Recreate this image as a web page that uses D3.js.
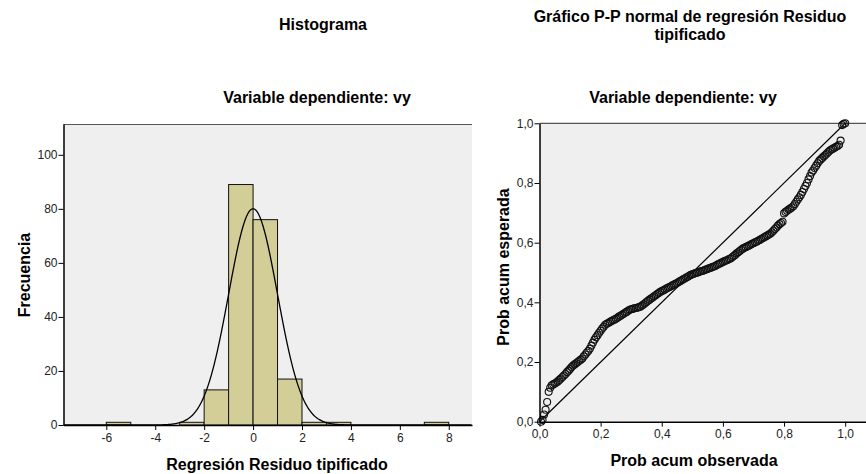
<!DOCTYPE html>
<meta charset="utf-8">
<html>
<head>
<title>Histograma y P-P</title>
<script src="https://d3js.org/d3.v7.min.js"></script>
<style>
  body { margin: 0; background: #fff; }
  text { font-family: "Liberation Sans", Arial, sans-serif; }
  .ttl { font-size: 16px; font-weight: bold; fill: #000; }
  .tick text { font-size: 12px; fill: #222; }
</style>
</head>
<body>
<script>
// histogram bins (start of bin, width 1) and frequencies
var binStart = [-6, -3, -2, -1, 0, 1, 2, 3, 7];
var binCount = [1, 1, 13, 89, 76, 17, 1, 1, 1];
var histTicksX = [-6, -4, -2, 0, 2, 4, 6, 8];
var histTicksY = [0, 20, 40, 60, 80, 100];
// fitted normal curve parameters
var normMean = 0, normSd = 0.997, normN = 200;

// P-P plot: expected cumulative probability for each ranked case (n = 200)
var ppExpected = [
  0.000, 0.006, 0.024, 0.040, 0.066, 0.100, 0.114, 0.122, 0.125, 0.128,
  0.131, 0.135, 0.140, 0.145, 0.150, 0.155, 0.160, 0.166, 0.171, 0.177,
  0.183, 0.188, 0.192, 0.196, 0.200, 0.204, 0.208, 0.212, 0.219, 0.225,
  0.232, 0.238, 0.245, 0.255, 0.265, 0.275, 0.283, 0.290, 0.298, 0.305,
  0.312, 0.318, 0.325, 0.328, 0.331, 0.334, 0.337, 0.340, 0.342, 0.345,
  0.348, 0.352, 0.355, 0.358, 0.362, 0.365, 0.368, 0.372, 0.375, 0.377,
  0.378, 0.380, 0.381, 0.382, 0.384, 0.385, 0.389, 0.393, 0.397, 0.401,
  0.405, 0.409, 0.413, 0.416, 0.420, 0.424, 0.428, 0.431, 0.435, 0.438,
  0.440, 0.443, 0.446, 0.449, 0.451, 0.454, 0.457, 0.460, 0.462, 0.465,
  0.468, 0.471, 0.474, 0.477, 0.480, 0.483, 0.486, 0.489, 0.492, 0.494,
  0.496, 0.498, 0.499, 0.501, 0.503, 0.505, 0.506, 0.508, 0.510, 0.512,
  0.514, 0.516, 0.518, 0.520, 0.522, 0.525, 0.528, 0.530, 0.533, 0.535,
  0.538, 0.540, 0.542, 0.545, 0.547, 0.551, 0.555, 0.559, 0.564, 0.568,
  0.572, 0.576, 0.580, 0.583, 0.585, 0.588, 0.590, 0.593, 0.596, 0.598,
  0.601, 0.603, 0.606, 0.609, 0.612, 0.615, 0.618, 0.621, 0.624, 0.627,
  0.630, 0.635, 0.640, 0.646, 0.651, 0.657, 0.662, 0.666, 0.670, 0.698,
  0.703, 0.707, 0.711, 0.714, 0.718, 0.722, 0.729, 0.737, 0.745, 0.752,
  0.760, 0.770, 0.780, 0.790, 0.800, 0.812, 0.823, 0.835, 0.842, 0.850,
  0.858, 0.866, 0.874, 0.879, 0.884, 0.889, 0.894, 0.899, 0.904, 0.909,
  0.912, 0.915, 0.918, 0.921, 0.924, 0.928, 0.942, 0.994, 0.998, 1.000
];
var ppTicks = [0, 0.2, 0.4, 0.6, 0.8, 1.0];

var svg = d3.select("body").append("svg")
  .attr("width", 866).attr("height", 474);

var fmtComma = function (d) { return d3.format(".1f")(d).replace(".", ","); };
var fmtInt = function (d) { return String(d); };

// ---------- Histogram ----------
var hx = d3.scaleLinear().domain([-7.75, 8.95]).range([63.5, 472]);
var hy = d3.scaleLinear().domain([0, 111.4]).range([425, 124]);

svg.append("rect")
  .attr("x", hx.range()[0]).attr("y", hy.range()[1])
  .attr("width", hx.range()[1] - hx.range()[0])
  .attr("height", hy.range()[0] - hy.range()[1])
  .attr("fill", "#efefef");
svg.append("line")
  .attr("x1", hx.range()[0]).attr("x2", hx.range()[1])
  .attr("y1", hy.range()[1] + 0.5).attr("y2", hy.range()[1] + 0.5)
  .attr("stroke", "#555").attr("stroke-width", 1);

svg.selectAll("rect.bar")
  .data(binStart)
  .enter()
  .append("rect")
  .attr("class", "bar")
  .attr("x", function (d) { return hx(d); })
  .attr("width", function (d) { return hx(d + 1) - hx(d); })
  .attr("y", function (d, i) { return hy(binCount[i]); })
  .attr("height", function (d, i) { return hy(0) - hy(binCount[i]); })
  .attr("fill", "#d3ce97")
  .attr("stroke", "#111")
  .attr("stroke-width", 1);

// normal curve
var curvePts = d3.range(-7.75, 8.95, 0.02).map(function (z) {
  var dens = Math.exp(-0.5 * Math.pow((z - normMean) / normSd, 2)) / (normSd * Math.sqrt(2 * Math.PI));
  return [z, dens * normN];
});
svg.append("path")
  .datum(curvePts)
  .attr("fill", "none")
  .attr("stroke", "#000")
  .attr("stroke-width", 1.3)
  .attr("d", d3.line().x(function (d) { return hx(d[0]); }).y(function (d) { return hy(d[1]); }));

var hxAxis = svg.append("g")
  .attr("transform", "translate(0," + hy(0) + ")")
  .call(d3.axisBottom(hx).tickValues(histTicksX).tickFormat(fmtInt).tickSize(5).tickSizeOuter(0));
var hyAxis = svg.append("g")
  .attr("transform", "translate(" + hx.range()[0] + ",0)")
  .call(d3.axisLeft(hy).tickValues(histTicksY).tickFormat(fmtInt).tickSize(5).tickSizeOuter(0));
[hxAxis, hyAxis].forEach(function (a) {
  a.select(".domain").attr("stroke", "#000").attr("stroke-width", 1.5);
  a.selectAll(".tick line").attr("stroke", "#000");
});
hyAxis.selectAll(".tick text").attr("x", -6);

svg.append("text").attr("class", "ttl")
  .attr("x", 323).attr("y", 30).attr("text-anchor", "middle").text("Histograma");
svg.append("text").attr("class", "ttl")
  .attr("x", 317).attr("y", 103).attr("text-anchor", "middle").text("Variable dependiente: vy");
svg.append("text").attr("class", "ttl")
  .attr("x", 277).attr("y", 470).attr("text-anchor", "middle").text("Regresión Residuo tipificado");
svg.append("text").attr("class", "ttl")
  .attr("transform", "translate(30,275) rotate(-90)")
  .attr("text-anchor", "middle").text("Frecuencia");

// ---------- P-P plot ----------
var px = d3.scaleLinear().domain([0, 1.07]).range([539.5, 866.6]);
var py = d3.scaleLinear().domain([0, 1]).range([421.7, 123.3]);

svg.append("rect")
  .attr("x", px(0)).attr("y", py(1))
  .attr("width", px(1.07) - px(0))
  .attr("height", py(0) - py(1))
  .attr("fill", "#efefef");
svg.append("line")
  .attr("x1", px(0)).attr("x2", px(1.07))
  .attr("y1", py(1)).attr("y2", py(1))
  .attr("stroke", "#555").attr("stroke-width", 1.2);

svg.append("line")
  .attr("x1", px(0)).attr("y1", py(0))
  .attr("x2", px(1)).attr("y2", py(1))
  .attr("stroke", "#000").attr("stroke-width", 1.2);

svg.selectAll("circle.pp")
  .data(ppExpected)
  .enter()
  .append("circle")
  .attr("class", "pp")
  .attr("cx", function (d, i) { return px((i + 1) / ppExpected.length); })
  .attr("cy", function (d) { return py(d); })
  .attr("r", 3.5)
  .attr("fill", "none")
  .attr("stroke", "#111")
  .attr("stroke-width", 1.1);

var pxAxis = svg.append("g")
  .attr("transform", "translate(0," + py(0) + ")")
  .call(d3.axisBottom(px).tickValues(ppTicks).tickFormat(fmtComma).tickSize(5).tickSizeOuter(0));
var pyAxis = svg.append("g")
  .attr("transform", "translate(" + px(0) + ",0)")
  .call(d3.axisLeft(py).tickValues(ppTicks).tickFormat(fmtComma).tickSize(5).tickSizeOuter(0));
[pxAxis, pyAxis].forEach(function (a) {
  a.select(".domain").attr("stroke", "#000").attr("stroke-width", 1.5);
  a.selectAll(".tick line").attr("stroke", "#000");
});
pyAxis.selectAll(".tick text").attr("x", -6);

svg.append("text").attr("class", "ttl")
  .attr("x", 690).attr("y", 22).attr("text-anchor", "middle")
  .text("Gráfico P-P normal de regresión Residuo");
svg.append("text").attr("class", "ttl")
  .attr("x", 690).attr("y", 40).attr("text-anchor", "middle").text("tipificado");
svg.append("text").attr("class", "ttl")
  .attr("x", 683).attr("y", 103).attr("text-anchor", "middle").text("Variable dependiente: vy");
svg.append("text").attr("class", "ttl")
  .attr("x", 694).attr("y", 466).attr("text-anchor", "middle").text("Prob acum observada");
svg.append("text").attr("class", "ttl")
  .attr("transform", "translate(509,267) rotate(-90)")
  .attr("text-anchor", "middle").text("Prob acum esperada");
</script>
</body>
</html>
